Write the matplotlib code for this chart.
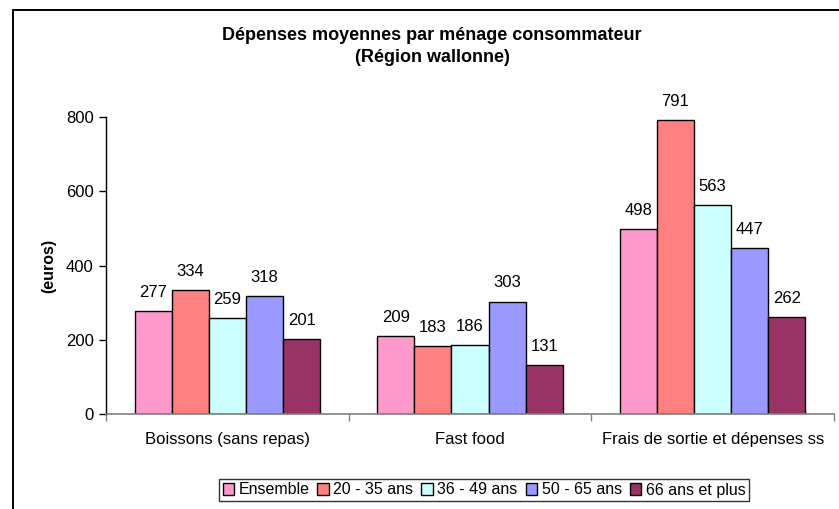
import matplotlib.pyplot as plt
import numpy as np
from matplotlib.patches import Rectangle

plt.rcParams['font.family'] = ['Liberation Sans', 'DejaVu Sans']

# average spending per consuming household, by age group
categories = ['Boissons (sans repas)', 'Fast food', 'Frais de sortie et dépenses ss']
groups = ['Ensemble', '20 - 35 ans', '36 - 49 ans', '50 - 65 ans', '66 ans et plus']
ensemble = [277, 209, 498]
ans_20_35 = [334, 183, 791]
ans_36_49 = [259, 186, 563]
ans_50_65 = [318, 303, 447]
ans_66_plus = [201, 131, 262]
colors = ['#FF99CC', '#FF8080', '#CCFFFF', '#9999FF', '#993366']

series = [ensemble, ans_20_35, ans_36_49, ans_50_65, ans_66_plus]

fig = plt.figure(figsize=(8.39, 5.09), dpi=100)
ax = fig.add_axes([106/839, 1 - 414/509, (834 - 106)/839, (414 - 117)/509])

# outer chart frame (cut off at right and bottom)
fig.patches.append(Rectangle((13/839, -0.5), 1.2, 1.5 - 10/509,
                             transform=fig.transFigure, fill=False,
                             edgecolor='black', linewidth=1.4))

x = np.arange(len(categories))
width = 0.153
for i, (vals, name, col) in enumerate(zip(series, groups, colors)):
    pos = x + (i - 2) * width
    bars = ax.bar(pos, vals, width, color=col, edgecolor='black',
                  linewidth=1.0, label=name)
    for b, v in zip(bars, vals):
        ax.annotate(str(v), (b.get_x() + b.get_width()/2, v),
                    xytext=(0, 8), textcoords='offset points',
                    ha='center', va='bottom', fontsize=12,
                    annotation_clip=False)

ax.set_xlim(-0.5, 2.5)
ax.set_ylim(0, 800)
ax.set_yticks([0, 200, 400, 600, 800])
ax.tick_params(axis='y', labelsize=12, length=5, width=1, direction='out', pad=4)

# category labels centred, tick marks at the group boundaries
ax.set_xticks(x)
ax.set_xticklabels(categories, fontsize=12)
ax.tick_params(axis='x', length=0, pad=13)
ax.set_xticks([-0.5, 0.5, 1.5, 2.5], minor=True)
ax.tick_params(axis='x', which='minor', length=5, width=1, color='#808080', direction='out')

ax.spines['top'].set_visible(False)
ax.spines['right'].set_visible(False)
ax.spines['bottom'].set_color('#808080')
ax.spines['bottom'].set_linewidth(1.2)
ax.spines['left'].set_linewidth(1.0)

ax.set_ylabel('(euros)', fontsize=11.5, fontweight='bold', labelpad=7)

fig.text(432/839, 1 - 35/509, 'Dépenses moyennes par ménage consommateur',
         ha='center', va='center', fontsize=13, fontweight='bold')
fig.text(432/839, 1 - 58/509, '(Région wallonne)',
         ha='center', va='center', fontsize=13, fontweight='bold')

leg = fig.legend(loc='center', bbox_to_anchor=(484/839, 1 - 490/509), ncol=5,
                 fontsize=11.5, frameon=True, fancybox=False, handlelength=0.7,
                 handleheight=0.7, handletextpad=0.3, columnspacing=0.5,
                 borderpad=0.25, edgecolor='black')
leg.get_frame().set_linewidth(1.0)

fig.savefig('out.png', dpi=100)
